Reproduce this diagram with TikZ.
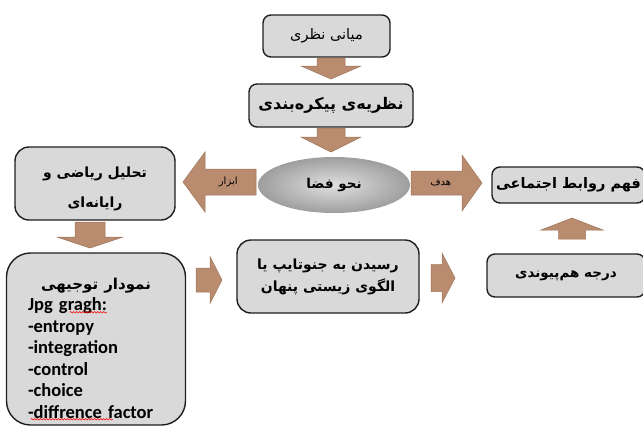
\documentclass[tikz,border=0pt]{standalone}
\usepackage{fontspec}
\setmainfont{Carlito}
\newfontfamily\fa[Script=Arabic]{DejaVu Sans}
\TeXXeTstate=1
\usetikzlibrary{shapes.geometric, positioning, calc, decorations.pathmorphing}
\definecolor{boxgray}{RGB}{217,217,217}
\definecolor{arrowbrown}{RGB}{185,140,112}
\definecolor{arrowedge}{RGB}{158,116,88}
\definecolor{ovalin}{RGB}{224,224,224}
\definecolor{ovalout}{RGB}{158,158,158}
\newcommand{\fatext}[1]{{\fa\beginR #1\endR}}
% block arrow: [opts]{tail}{tip}{half shaft}{half head}{head length}
\newcommand{\blockarrow}[6][]{%
  \coordinate (#2h) at ($(#3)!#6!(#2)$);
  \draw[blockarr,#1] ($(#2)!#4!90:(#3)$) -- ($(#2h)!#4!90:(#3)$) -- ($(#2h)!#5!90:(#3)$) -- (#3)
    -- ($(#2h)!#5!-90:(#3)$) -- ($(#2h)!#4!-90:(#3)$) -- ($(#2)!#4!-90:(#3)$) -- cycle;
}

\begin{document}
\begin{tikzpicture}[x=1pt, y=-1pt,
    box/.style={rectangle, rounded corners=#1, draw=black!88, line width=1.4pt, fill=boxgray, align=center, inner sep=2pt},
    box/.default=8pt,
    blockarr/.style={draw=arrowedge, line width=0.5pt, fill=arrowbrown, line join=miter},
    arrlabel/.style={font=\fa\fontsize{10}{12}\selectfont, inner sep=0pt},
    spell/.style={red, line width=0.5pt, decorate, decoration={snake, amplitude=0.8pt, segment length=3pt}},
    every node/.style={font=\fa\bfseries\fontsize{14}{18}\selectfont}
]
\useasboundingbox (0,0) rectangle (643,426);

% boxes
\node[box, minimum width=127pt, minimum height=42pt, font=\fa\fontsize{14.5}{16}\selectfont] (base) at (326.5,36) {\fatext{میانی نظری}};
\node[box, minimum width=164pt, minimum height=43pt, font=\fa\bfseries\fontsize{16}{18}\selectfont] (theory) at (331,105.5) {\fatext{نظریه‌ی پیکره‌بندی}};
\node[ellipse, minimum width=152pt, minimum height=56pt, inner color=ovalin, outer color=ovalout, font=\fa\bfseries\fontsize{13.5}{16}\selectfont] (syntax) at (334,185) {\fatext{نحو فضا}};
\node[box=14pt, minimum width=160pt, minimum height=73pt, font=\fa\bfseries\fontsize{14}{30}\selectfont] (analysis) at (95,183.5) {\rule{0pt}{22pt}\fatext{تحلیل ریاضی و}\\\fatext{رایانه‌ای}};
\node[box=24pt, minimum width=179pt, minimum height=172pt, text width=136pt, align=left, font=\bfseries\fontsize{18.5}{21.5}\selectfont] (graph) at (96,339)
  {\makebox[\linewidth]{\fa\fontsize{15}{21.5}\selectfont\rule{0pt}{30pt}\beginR نمودار توجیهی\endR}\\
   Jpg gragh:\\
   -entropy\\
   -integration\\
   -control\\
   -choice\\
   -diffrence factor};
\node[box=14pt, minimum width=182pt, minimum height=73pt, font=\fa\bfseries\fontsize{14}{22}\selectfont] (genotype) at (328,276.5) {\fatext{رسیدن به جنوتایپ یا}\\\fatext{الگوی زیستی پنهان}};
\node[box, minimum width=158pt, minimum height=43pt, font=\fa\bfseries\fontsize{13.5}{16}\selectfont] (degree) at (566,275.5) {\fatext{درجه هم‌پیوندی}};
\node[box, minimum width=153pt, minimum height=36pt, font=\fa\bfseries\fontsize{14.5}{18}\selectfont] (social) at (568.5,185) {\fatext{فهم روابط اجتماعی}};

% spell-check marks
\draw[spell] ($(graph.north west)+(64,60)$) -- ++(37,0);
\draw[spell] ($(graph.north west)+(25,167)$) -- ++(82,0);

% block arrows
\coordinate (a1t) at (331,58);   \coordinate (a1p) at (331,79);
\coordinate (a2t) at (331,128);  \coordinate (a2p) at (331,152);
\coordinate (toolt) at (256,182); \coordinate (toolp) at (183,182);
\coordinate (goalt) at (411,183); \coordinate (goalp) at (482,183);
\coordinate (a3t) at (90,222);   \coordinate (a3p) at (90,248);
\coordinate (a4t) at (196,280);  \coordinate (a4p) at (222,280);
\coordinate (a5t) at (431,278);  \coordinate (a5p) at (455,278);
\coordinate (a6t) at (572,239);  \coordinate (a6p) at (572,218);

\blockarrow{a1t}{a1p}{14pt}{30pt}{13pt}
\blockarrow{a2t}{a2p}{14pt}{30pt}{15pt}
\blockarrow{toolt}{toolp}{13pt}{30pt}{22pt}
\blockarrow{goalt}{goalp}{12pt}{28pt}{20pt}
\blockarrow{a3t}{a3p}{15pt}{33pt}{11pt}
\blockarrow{a4t}{a4p}{12pt}{23.5pt}{12pt}
\blockarrow{a5t}{a5p}{13.5pt}{25pt}{13pt}
\blockarrow{a6t}{a6p}{13.5pt}{31pt}{12pt}

\node[arrlabel] (toollbl) at ($(toolt)!0.38!(toolp)$) {\fatext{ابزار}};
\node[arrlabel] (goallbl) at ($(goalt)!0.42!(goalp)$) {\fatext{هدف}};

\end{tikzpicture}
\end{document}
